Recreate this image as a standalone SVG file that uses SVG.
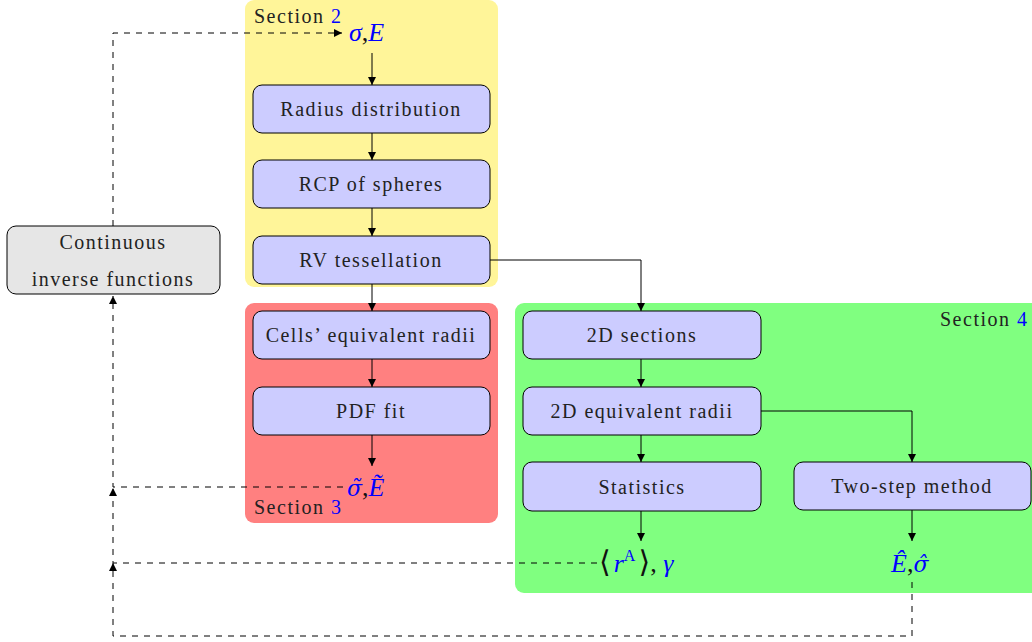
<svg xmlns="http://www.w3.org/2000/svg" width="1032" height="642" viewBox="0 0 1032 642">
<style>
.sec{stroke:none}
.node rect{fill:#ccccff;stroke:#000;stroke-width:1}
.node text,.lbl{font-family:"Liberation Serif","DejaVu Serif",serif;font-size:20px;letter-spacing:1.5px;fill:#222;text-anchor:middle}
.gray rect{fill:#e6e6e6}
.m{font-family:"Liberation Serif","DejaVu Serif",serif;font-size:26px;font-style:italic;fill:#0000ff}
.g{font-family:"DejaVu Serif",serif;font-size:22px}
.k{fill:#111;font-style:normal}
.b{fill:#0000ff}
.c{fill:none;stroke:#000;stroke-width:1}
.d{fill:none;stroke:#000;stroke-width:1;stroke-dasharray:6,6}
</style>
<defs>
<marker id="ah" viewBox="0 0 10 10" refX="10" refY="5" markerWidth="8" markerHeight="8" markerUnits="userSpaceOnUse" orient="auto">
<path d="M0,0 L10,5 L0,10 z" fill="#000"/>
</marker>
</defs>
<g id="sections">
<rect class="sec" x="245" y="0" width="253" height="287" rx="9" fill="#fff599"/>
<rect class="sec" x="245" y="303" width="253" height="220" rx="9" fill="#ff8080"/>
<rect class="sec" x="515" y="303" width="530" height="290" rx="9" fill="#80ff80"/>
<text class="lbl" x="254" y="23" style="text-anchor:start">Section <tspan class="b">2</tspan></text>
<text class="lbl" x="254" y="514" style="text-anchor:start">Section <tspan class="b">3</tspan></text>
<text class="lbl" x="940" y="326" style="text-anchor:start">Section <tspan class="b">4</tspan></text>
</g>
<g id="connectors">
<path class="c" d="M372,53 V85" marker-end="url(#ah)"/>
<path class="c" d="M372,133 V160" marker-end="url(#ah)"/>
<path class="c" d="M372,208 V236" marker-end="url(#ah)"/>
<path class="c" d="M372,284 V311" marker-end="url(#ah)"/>
<path class="c" d="M372,359 V387" marker-end="url(#ah)"/>
<path class="c" d="M372,435 V466" marker-end="url(#ah)"/>
<path class="c" d="M490,260 H641 V311" marker-end="url(#ah)"/>
<path class="c" d="M641,359 V387" marker-end="url(#ah)"/>
<path class="c" d="M641,435 V462" marker-end="url(#ah)"/>
<path class="c" d="M761,411 H912 V462" marker-end="url(#ah)"/>
<path class="c" d="M641,511 V541" marker-end="url(#ah)"/>
<path class="c" d="M912,510 V541" marker-end="url(#ah)"/>
<path class="d" d="M113,226 V33 H342" marker-end="url(#ah)"/>
<path class="d" d="M343,487 H113 V296" marker-end="url(#ah)"/>
<path class="d" d="M597,563 H113 V488" marker-end="url(#ah)"/>
<path class="d" d="M912,582 V636 H113 V563" marker-end="url(#ah)"/>
</g>
<g id="n-radius" class="node"><rect x="253" y="85" width="237" height="48" rx="9"/><text x="371" y="116">Radius distribution</text></g>
<g id="n-rcp" class="node"><rect x="253" y="160" width="237" height="48" rx="9"/><text x="371" y="191">RCP of spheres</text></g>
<g id="n-rv" class="node"><rect x="253" y="236" width="237" height="48" rx="9"/><text x="371" y="267">RV tessellation</text></g>
<g id="n-cells" class="node"><rect x="253" y="311" width="237" height="48" rx="9"/><text x="371" y="342">Cells’ equivalent radii</text></g>
<g id="n-pdf" class="node"><rect x="253" y="387" width="237" height="48" rx="9"/><text x="371" y="418">PDF fit</text></g>
<g id="n-2dsec" class="node"><rect x="523" y="311" width="238" height="48" rx="9"/><text x="642" y="342">2D sections</text></g>
<g id="n-2deq" class="node"><rect x="523" y="387" width="238" height="48" rx="9"/><text x="642" y="418">2D equivalent radii</text></g>
<g id="n-stat" class="node"><rect x="523" y="462" width="238" height="49" rx="9"/><text x="642" y="494">Statistics</text></g>
<g id="n-two" class="node"><rect x="794" y="462" width="237" height="48" rx="9"/><text x="912" y="493">Two-step method</text></g>
<g id="n-cont" class="node gray"><rect x="7" y="226" width="213" height="68" rx="9"/><text x="113" y="249">Continuous</text><text x="113" y="286">inverse functions</text></g>
<g id="v-sigmaE"><text class="m" x="349" y="41">σ<tspan class="k">,</tspan>E</text></g>
<g id="v-tilde"><text class="m" x="347" y="496"><tspan class="g">σ̃</tspan><tspan class="k">,</tspan>Ẽ</text></g>
<g id="v-rA"><text class="m" x="599" y="572"><tspan class="k" font-size="30">⟨</tspan><tspan dx="3">r</tspan><tspan class="b" style="font-style:normal" font-size="16" dy="-11">A</tspan><tspan class="k" font-size="30" dy="11" dx="3">⟩</tspan><tspan class="k">, </tspan>γ</text></g>
<g id="v-hat"><text class="m" x="891" y="572">Ê<tspan class="k">,</tspan><tspan class="g">σ̂</tspan></text></g>
</svg>
